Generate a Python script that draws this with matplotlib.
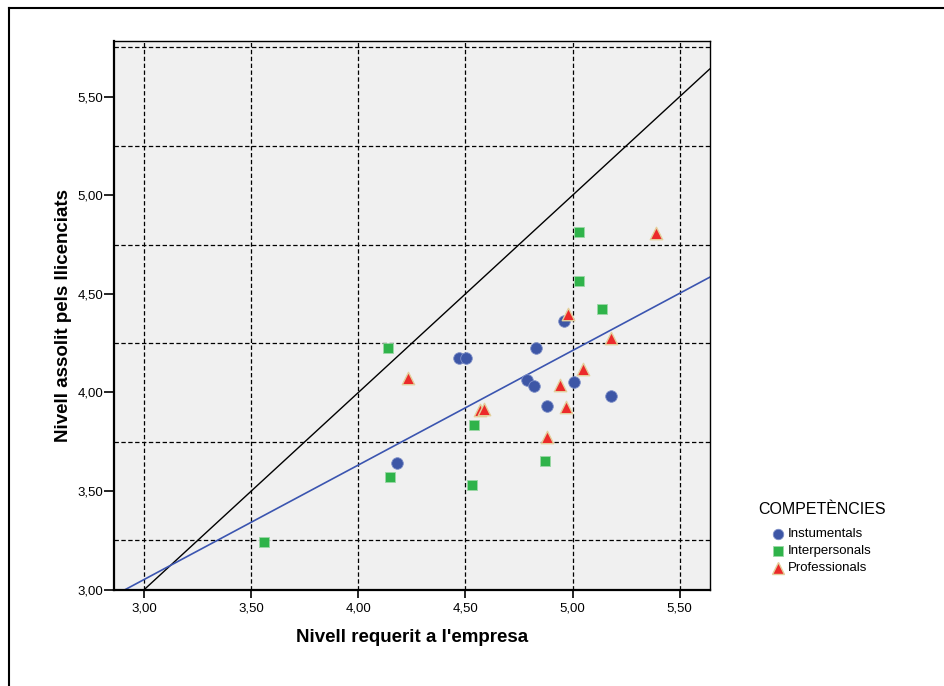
import numpy as np
import matplotlib
matplotlib.use("Agg")
import matplotlib.pyplot as plt
from matplotlib.lines import Line2D
from matplotlib.ticker import FuncFormatter

plt.rcParams['font.family'] = ['Liberation Sans', 'DejaVu Sans']

# Data
inst_x = [4.470, 4.501, 4.179, 4.960, 4.829, 4.789, 4.820, 5.008, 5.179, 4.879]
inst_y = [4.173, 4.173, 3.641, 4.363, 4.224, 4.063, 4.033, 4.053, 3.984, 3.933]
inter_x = [4.140, 4.540, 4.149, 4.529, 3.559, 5.030, 5.030, 5.139, 4.870]
inter_y = [4.224, 3.835, 3.572, 3.531, 3.240, 4.814, 4.564, 4.423, 3.653]
prof_x = [4.231, 5.389, 4.980, 5.179, 5.047, 4.940, 4.969, 4.568, 4.588, 4.879]
prof_y = [4.074, 4.807, 4.398, 4.278, 4.118, 4.038, 3.928, 3.911, 3.916, 3.776]

series_labels = ["Instumentals", "Interpersonals", "Professionals"]
legend_title = "COMPETÈNCIES"
x_label = "Nivell requerit a l'empresa"
y_label = "Nivell assolit pels llicenciats"
x_ticks = [3.0, 3.5, 4.0, 4.5, 5.0, 5.5]
y_ticks = [3.0, 3.5, 4.0, 4.5, 5.0, 5.5]
x_grid = [3.0, 3.5, 4.0, 4.5, 5.0, 5.5]
y_grid = [3.25, 3.75, 4.25, 4.75, 5.25, 5.75]

xlim = (2.861, 5.640)
ylim = (3.0, 5.782)

W, H = 945, 686
fig = plt.figure(figsize=(W / 100, H / 100), dpi=100)
ax = fig.add_axes([0.121, 0.1404, 0.630, 0.7998])
ax.set_facecolor('#f0f0f0')

for gx in x_grid:
    ax.axvline(gx, color='black', lw=0.9, ls=(0, (3.5, 2)), zorder=1)
for gy in y_grid:
    ax.axhline(gy, color='black', lw=0.9, ls=(0, (3.5, 2)), zorder=1)

# reference line y = x
xs = np.array(xlim)
ax.plot(xs, xs, color='black', lw=1.0, zorder=2)

# fit line over all points
all_x = np.array(inst_x + inter_x + prof_x)
all_y = np.array(inst_y + inter_y + prof_y)
slope, icpt = np.polyfit(all_x, all_y, 1)
ax.plot(xs, slope * xs + icpt, color='#3b55b0', lw=1.2, zorder=2)

styles = [
    dict(marker='o', color='#3d56a6', edgecolor='#7f90c8', s=70, lw=0.6),
    dict(marker='s', color='#2fb34a', edgecolor='#9bd8a6', s=55, lw=0.6),
    dict(marker='^', color='#ec2a2a', edgecolor='#e3cf9c', s=80, lw=1.0),
]
for (xv, yv), st, lab in zip([(inst_x, inst_y), (inter_x, inter_y), (prof_x, prof_y)],
                             styles, series_labels):
    ax.scatter(xv, yv, s=st['s'], marker=st['marker'], color=st['color'],
               edgecolors=st['edgecolor'], linewidths=st['lw'], zorder=3, label=lab)

ax.set_xlim(*xlim)
ax.set_ylim(*ylim)
ax.set_xticks(x_ticks)
ax.set_yticks(y_ticks)
fmt = FuncFormatter(lambda v, p: f"{v:.2f}".replace('.', ','))
ax.xaxis.set_major_formatter(fmt)
ax.yaxis.set_major_formatter(fmt)
ax.tick_params(axis='y', direction='out', length=7, width=1.2, labelsize=9.5,
               colors='black', pad=1)
ax.tick_params(axis='x', direction='out', length=6, width=1.2, labelsize=9.5,
               colors='black', pad=3)

for side in ['top', 'right']:
    ax.spines[side].set_linewidth(1.0)
ax.spines['left'].set_linewidth(1.6)
ax.spines['bottom'].set_linewidth(1.6)

ax.set_xlabel(x_label, fontsize=13.5, fontweight='bold', labelpad=11)
ax.set_ylabel(y_label, fontsize=13.5, fontweight='bold', labelpad=4)

# legend (manual placement)
fig.text(822 / W, 1 - 509 / H, legend_title, fontsize=11.5, ha='center', va='center')
for i, (st, lab) in enumerate(zip(styles, series_labels)):
    yy = 1 - (534 + 17 * i) / H
    ms = np.sqrt(st['s'])
    fig.add_artist(Line2D([778 / W], [yy], marker=st['marker'], markersize=ms * 0.9,
                          markerfacecolor=st['color'], markeredgecolor=st['edgecolor'],
                          markeredgewidth=st['lw'], linestyle='none',
                          transform=fig.transFigure))
    fig.text(788 / W, yy, lab, fontsize=9.5, ha='left', va='center')

# outer frame (top and left lines)
fig.add_artist(Line2D([9 / W, 9 / W], [0, 1 - 8 / H], color='black', lw=1.5,
                      transform=fig.transFigure))
fig.add_artist(Line2D([9 / W, 1], [1 - 8 / H, 1 - 8 / H], color='black', lw=1.5,
                      transform=fig.transFigure))

fig.savefig("out.png", dpi=100)
